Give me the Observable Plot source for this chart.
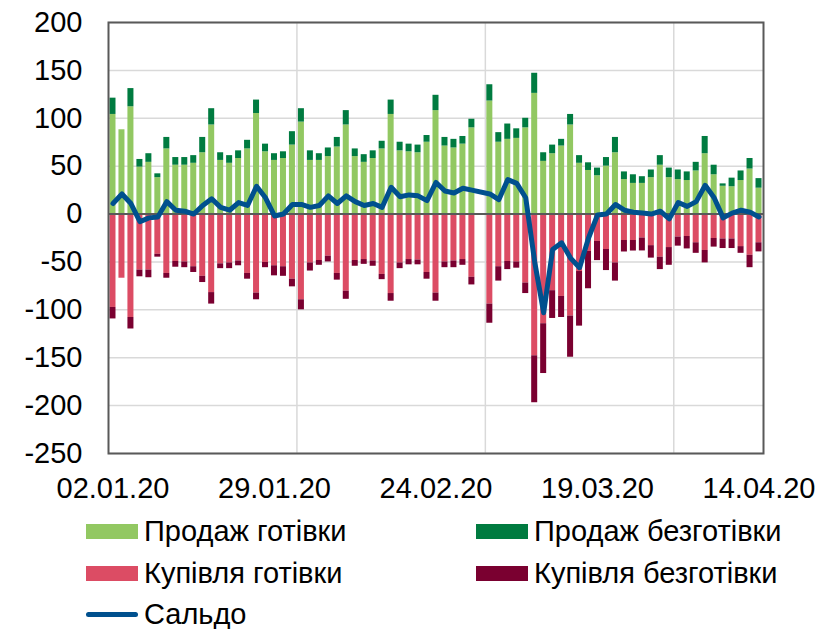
<!DOCTYPE html>
<html>
<head>
<meta charset="utf-8">
<script src="https://cdn.jsdelivr.net/npm/d3@7"></script>
<script src="https://cdn.jsdelivr.net/npm/@observablehq/plot@0.6"></script>
<style>
  html, body { margin: 0; padding: 0; background: #fff; }
  #wrap { position: relative; width: 834px; height: 629px; font-family: "Liberation Sans", Arial, sans-serif; color: #000; }
  #chart { position: absolute; left: 0; top: 0; }
  .lg { position: absolute; font-size: 29px; line-height: 29px; white-space: nowrap; }
  .sw { position: absolute; width: 52px; height: 15px; }
  .ln { position: absolute; width: 52px; height: 5px; border-radius: 3px; }
</style>
</head>
<body>
<div id="wrap">
  <div id="chart"></div>
</div>
<script>
// Category labels (trading days)
const dates = [
  "02.01.20","03.01.20","06.01.20","08.01.20","09.01.20","10.01.20","13.01.20","14.01.20","15.01.20","16.01.20",
  "17.01.20","20.01.20","21.01.20","22.01.20","23.01.20","24.01.20","27.01.20","28.01.20","29.01.20","30.01.20",
  "31.01.20","03.02.20","04.02.20","05.02.20","06.02.20","07.02.20","10.02.20","11.02.20","12.02.20","13.02.20",
  "14.02.20","17.02.20","18.02.20","19.02.20","20.02.20","21.02.20","24.02.20","25.02.20","26.02.20","27.02.20",
  "28.02.20","29.02.20","02.03.20","03.03.20","04.03.20","05.03.20","06.03.20","10.03.20","11.03.20","12.03.20",
  "13.03.20","16.03.20","17.03.20","18.03.20","19.03.20","20.03.20","23.03.20","24.03.20","25.03.20","26.03.20",
  "27.03.20","30.03.20","31.03.20","01.04.20","02.04.20","03.04.20","06.04.20","07.04.20","08.04.20","09.04.20",
  "10.04.20","13.04.20","14.04.20"
];
const xTickLabels = ["02.01.20","29.01.20","24.02.20","19.03.20","14.04.20"];
const xGridAt = ["03.02.20","02.03.20","01.04.20"];
const yTicks = [-250,-200,-150,-100,-50,0,50,100,150,200];

const seriesNames = ["Продаж готівки","Продаж безготівки","Купівля готівки","Купівля безготівки"];
const seriesColors = ["#92c862","#007b40","#dc4c64","#7a0030"];
const saldoName = "Сальдо";
const saldoColor = "#00508e";

const salesCash = [104,88,112,49,54,38,68,51,51,53,64,93,56,53,58,68,105,65,56,58,72,96,56,56,60,70,93,60,54,58,68,104,66,65,64,75,108,71,69,73,90,null,118,75,78,79,90,126,55,63,71,93,53,45.5,40,50,64,36,32,32,38,51,38,36,35,45,63,41,29,28.5,35,47,27];
const salesNoncash = [17,0,19,8,9,4,12,8,8,8,16,17,8,8,8,9,14,8,7,7,14,14,10,7,9,10,15,8,8,8,8,15,9,8,8,7,16,9,9,8,9,null,17,10,16,10,10,21,9,9,7,11,8,8,8,9,16,8,9,7,8,10,10,10,9,9,18,10,2.5,9,10,11,10];
const buyCash = [-97.5,-67,-108,-58.5,-58.5,-42,-62,-49.5,-50,-55,-65,-82,-52,-51,-49,-62,-82.5,-50.5,-54,-55,-68,-89.5,-51,-48.5,-44,-62,-80.5,-48.5,-47.5,-49,-63,-83,-51,-47.5,-48,-61,-82.5,-50,-49,-47.5,-66,null,-94,-55,-49.5,-50,-72,-148,-114.5,-80,-86,-106.5,-60,-39,-28.6,-37,-51,-27.6,-27.6,-25,-33,-45,-35,-24,-23.4,-30,-38,-25.5,-26,-26,-34,-43,-30];
const buyNoncash = [-12,0,-12,-7,-8,-3,-5,-6,-6,-6,-6.5,-12,-5,-6,-5,-6,-7,-5.5,-10.5,-10,-8,-10.5,-8.5,-5,-6,-7,-8.5,-6,-5,-5.5,-5.5,-8,-6,-5.5,-5,-7,-8.5,-6,-7,-6,-8,null,-20,-15,-8.5,-6.5,-11,-49,-52,-29,-22,-43,-57,-39,-20,-22,-19,-12,-11,-13.5,-13,-13,-18.5,-9.5,-13,-11,-13,-9,-10,-10,-7,-13,-9.5];
const saldo = [11,21,11,-8,-4,-3,13,4,3,0,9,16,7,4,12,9,29,17,-2,0,10,10,7,9,19,11,19,13,9,11,7,28,18,20,19,14,33,24,22,27,25,null,21,15,36,32,17,-50,-103,-37,-30,-46,-56,-25,-1,0,10,4,2,1,0,3,-5,12,8,13,30,17,-4,1,4,2,-3];

// Build tables for the library
const seriesArrays = [salesCash, salesNoncash, buyCash, buyNoncash];
const bars = [];
dates.forEach((d, i) => {
  seriesArrays.forEach((arr, s) => {
    if (arr[i] != null) bars.push({date: d, value: arr[i], series: seriesNames[s]});
  });
});
const saldoData = dates.map((d, i) => ({date: d, value: saldo[i]})).filter(r => r.value != null);

const W = 834, H = 510;
const mL = 108, mR = 71, mT = 22, mB = H - 453;
const step = (W - mL - mR) / dates.length;

const chart = Plot.plot({
  width: W,
  height: H,
  marginLeft: mL,
  marginRight: mR,
  marginTop: mT,
  marginBottom: mB,
  style: {fontFamily: "'Liberation Sans', Arial, sans-serif", fontSize: "29px", color: "#000", background: "#fff"},
  x: {type: "band", domain: dates, paddingInner: 0.33, paddingOuter: 0.165},
  y: {domain: [-250, 200]},
  color: {domain: seriesNames, range: seriesColors},
  marks: [
    Plot.ruleY(yTicks, {stroke: "#d9d9d9", strokeWidth: 1.5}),
    Plot.ruleX(xGridAt, {x: d => d, stroke: "#d9d9d9", strokeWidth: 1.5, dx: -step / 2}),
    Plot.barY(bars, {x: "date", y: "value", fill: "series", order: null}),
    Plot.ruleY([0], {stroke: "#595959", strokeWidth: 2}),
    Plot.line(saldoData, {x: "date", y: "value", stroke: saldoColor, strokeWidth: 5, strokeLinejoin: "round", strokeLinecap: "round"}),
    Plot.frame({stroke: "#595959", strokeWidth: 2}),
    Plot.axisY(yTicks, {tickSize: 0, tickPadding: 26, fontSize: 29, label: null, tickFormat: d => String(d)}),
    Plot.axisX(xTickLabels, {tickSize: 0, tickPadding: 24, fontSize: 29, label: null})
  ]
});
document.getElementById("chart").appendChild(chart);

// Legend
const wrap = document.getElementById("wrap");
const legendItems = [
  {name: seriesNames[0], color: seriesColors[0], type: "rect", x: 86, cy: 531},
  {name: seriesNames[1], color: seriesColors[1], type: "rect", x: 476, cy: 531},
  {name: seriesNames[2], color: seriesColors[2], type: "rect", x: 86, cy: 573},
  {name: seriesNames[3], color: seriesColors[3], type: "rect", x: 476, cy: 573},
  {name: saldoName, color: saldoColor, type: "line", x: 86, cy: 614.5}
];
legendItems.forEach(it => {
  const sw = document.createElement("div");
  sw.className = it.type === "rect" ? "sw" : "ln";
  sw.style.background = it.color;
  sw.style.left = it.x + "px";
  sw.style.top = (it.cy - (it.type === "rect" ? 7.5 : 2.5)) + "px";
  wrap.appendChild(sw);
  const t = document.createElement("div");
  t.className = "lg";
  t.textContent = it.name;
  t.style.left = (it.x + 58) + "px";
  t.style.top = (it.cy - 14.5) + "px";
  wrap.appendChild(t);
});
</script>
</body>
</html>
